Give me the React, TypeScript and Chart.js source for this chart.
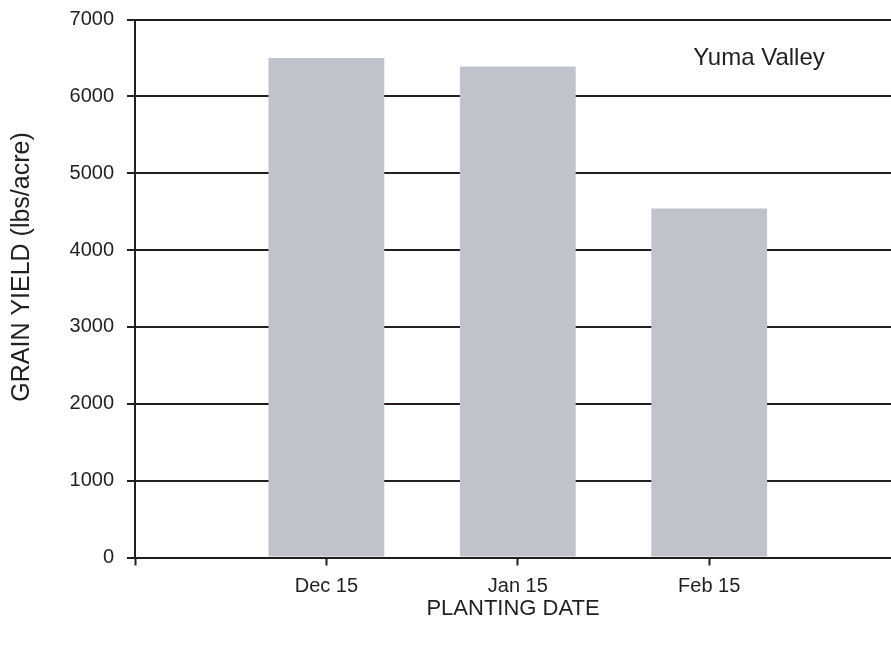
import React, { useEffect, useRef } from "react";
import { Chart, registerables } from "chart.js";

Chart.register(...registerables);

const categories: string[] = ["Dec 15", "Jan 15", "Feb 15"];
const grainYield: number[] = [6500, 6390, 4540];
const yTicks: number[] = [0, 1000, 2000, 3000, 4000, 5000, 6000, 7000];
const xAxisTitle = "PLANTING DATE";
const yAxisTitle = "GRAIN YIELD (lbs/acre)";
const siteLabel = "Yuma Valley";
// position of the site label in data coordinates
const siteLabelAt = { x: 3.26, y: 6490 };

const FONT = "'Liberation Sans', Arial, Helvetica, sans-serif";
const INK = "#231f20";
const BAR = "#c0c3cb";

const textPlugin = {
  id: "extraText",
  afterDraw(chart: any) {
    const ctx = chart.ctx;
    const xs = chart.scales.x;
    const ys = chart.scales.y;
    ctx.save();
    ctx.fillStyle = INK;
    ctx.font = `24px ${FONT}`;
    ctx.textAlign = "center";
    ctx.textBaseline = "middle";
    ctx.fillText(siteLabel, xs.getPixelForValue(siteLabelAt.x), ys.getPixelForValue(siteLabelAt.y));
    ctx.font = `25px ${FONT}`;
    ctx.translate(ys.left + 22, ys.getPixelForValue(3780));
    ctx.rotate(-Math.PI / 2);
    ctx.fillText(yAxisTitle, 0, 0);
    ctx.restore();
  },
};

export default function App() {
  const ref = useRef<HTMLCanvasElement | null>(null);
  useEffect(() => {
    document.body.style.margin = "0";
    if (!ref.current) return;
    const chart = new Chart(ref.current, {
      type: "bar",
      data: {
        datasets: [
          {
            label: "Grain yield",
            data: categories.map((c, i) => ({ x: i + 1, y: grainYield[i] })),
            backgroundColor: BAR,
            borderWidth: 0,
            barPercentage: 0.605,
            categoryPercentage: 1,
          },
        ],
      },
      options: {
        animation: false,
        responsive: false,
        layout: { padding: { top: 19.5, left: 0, right: 0, bottom: 0 } },
        plugins: { legend: { display: false }, tooltip: { enabled: false } },
        scales: {
          x: {
            type: "linear",
            min: 0,
            max: 3.95,
            offset: false,
            grid: {
              offset: false,
              drawOnChartArea: false,
              drawTicks: true,
              tickLength: 8,
              tickColor: INK,
              tickWidth: 2,
            },
            border: { display: true, color: INK, width: 2 },
            ticks: {
              stepSize: 1,
              includeBounds: false,
              autoSkip: false,
              maxRotation: 0,
              padding: 9,
              color: INK,
              font: { family: FONT, size: 20 },
              callback: (v: any) => categories[Number(v) - 1] ?? "",
            },
            title: {
              display: true,
              text: xAxisTitle,
              color: INK,
              font: { family: FONT, size: 22 },
              padding: { top: 0, bottom: 24 },
            },
            afterFit: (s: any) => {
              s.height = 88.5;
              s.paddingLeft = 0;
              s.paddingRight = 0;
            },
          },
          y: {
            min: 0,
            max: 7000,
            afterBuildTicks: (s: any) => {
              s.ticks = yTicks.map((v) => ({ value: v }));
            },
            grid: {
              color: INK,
              lineWidth: 2,
              drawTicks: true,
              tickLength: 8,
              tickColor: INK,
            },
            border: { display: true, color: INK, width: 2 },
            ticks: {
              padding: 13,
              color: INK,
              font: { family: FONT, size: 20 },
              callback: (v: any) => String(v),
            },
            afterFit: (s: any) => {
              s.width = 135;
              s.paddingTop = 0;
              s.paddingBottom = 0;
            },
          },
        },
      },
      plugins: [textPlugin],
    });
    return () => chart.destroy();
  }, []);
  return <canvas ref={ref} width={891} height={646} style={{ display: "block" }} />;
}
